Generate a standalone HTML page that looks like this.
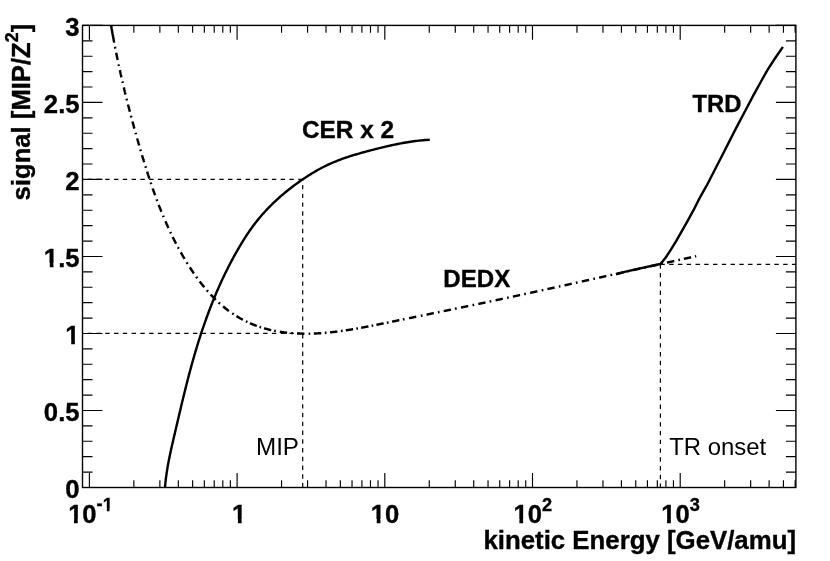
<!DOCTYPE html>
<html><head><meta charset="utf-8"><title>plot</title>
<style>html,body{margin:0;padding:0;background:#fff;}body{width:830px;height:561px;overflow:hidden;}svg{display:block;will-change:transform;}text{font-family:"Liberation Sans",sans-serif;fill:#000;}.b{font-weight:bold;stroke:#000;stroke-width:0.35px;}</style>
</head><body>
<svg width="830" height="561" viewBox="0 0 830 561">
<rect x="0" y="0" width="830" height="561" fill="#fff"/>
<path d="M89.40 487.50 V473.10 M89.40 25.40 V39.80 M133.86 487.50 V480.20 M133.86 25.40 V32.70 M159.87 487.50 V480.20 M159.87 25.40 V32.70 M178.32 487.50 V480.20 M178.32 25.40 V32.70 M192.64 487.50 V480.20 M192.64 25.40 V32.70 M204.33 487.50 V480.20 M204.33 25.40 V32.70 M214.22 487.50 V480.20 M214.22 25.40 V32.70 M222.79 487.50 V480.20 M222.79 25.40 V32.70 M230.34 487.50 V480.20 M230.34 25.40 V32.70 M237.10 487.50 V473.10 M237.10 25.40 V39.80 M281.56 487.50 V480.20 M281.56 25.40 V32.70 M307.57 487.50 V480.20 M307.57 25.40 V32.70 M326.02 487.50 V480.20 M326.02 25.40 V32.70 M340.34 487.50 V480.20 M340.34 25.40 V32.70 M352.03 487.50 V480.20 M352.03 25.40 V32.70 M361.92 487.50 V480.20 M361.92 25.40 V32.70 M370.49 487.50 V480.20 M370.49 25.40 V32.70 M378.04 487.50 V480.20 M378.04 25.40 V32.70 M384.80 487.50 V473.10 M384.80 25.40 V39.80 M429.26 487.50 V480.20 M429.26 25.40 V32.70 M455.27 487.50 V480.20 M455.27 25.40 V32.70 M473.72 487.50 V480.20 M473.72 25.40 V32.70 M488.04 487.50 V480.20 M488.04 25.40 V32.70 M499.73 487.50 V480.20 M499.73 25.40 V32.70 M509.62 487.50 V480.20 M509.62 25.40 V32.70 M518.19 487.50 V480.20 M518.19 25.40 V32.70 M525.74 487.50 V480.20 M525.74 25.40 V32.70 M532.50 487.50 V473.10 M532.50 25.40 V39.80 M576.96 487.50 V480.20 M576.96 25.40 V32.70 M602.97 487.50 V480.20 M602.97 25.40 V32.70 M621.42 487.50 V480.20 M621.42 25.40 V32.70 M635.74 487.50 V480.20 M635.74 25.40 V32.70 M647.43 487.50 V480.20 M647.43 25.40 V32.70 M657.32 487.50 V480.20 M657.32 25.40 V32.70 M665.89 487.50 V480.20 M665.89 25.40 V32.70 M673.44 487.50 V480.20 M673.44 25.40 V32.70 M680.20 487.50 V473.10 M680.20 25.40 V39.80 M724.66 487.50 V480.20 M724.66 25.40 V32.70 M750.67 487.50 V480.20 M750.67 25.40 V32.70 M769.12 487.50 V480.20 M769.12 25.40 V32.70 M783.44 487.50 V480.20 M783.44 25.40 V32.70 M795.13 487.50 V480.20 M795.13 25.40 V32.70 M82.50 487.50 H102.50 M795.90 487.50 H775.90 M82.50 472.10 H92.50 M795.90 472.10 H785.90 M82.50 456.69 H92.50 M795.90 456.69 H785.90 M82.50 441.29 H92.50 M795.90 441.29 H785.90 M82.50 425.89 H92.50 M795.90 425.89 H785.90 M82.50 410.48 H102.50 M795.90 410.48 H775.90 M82.50 395.08 H92.50 M795.90 395.08 H785.90 M82.50 379.68 H92.50 M795.90 379.68 H785.90 M82.50 364.27 H92.50 M795.90 364.27 H785.90 M82.50 348.87 H92.50 M795.90 348.87 H785.90 M82.50 333.47 H102.50 M795.90 333.47 H775.90 M82.50 318.06 H92.50 M795.90 318.06 H785.90 M82.50 302.66 H92.50 M795.90 302.66 H785.90 M82.50 287.26 H92.50 M795.90 287.26 H785.90 M82.50 271.85 H92.50 M795.90 271.85 H785.90 M82.50 256.45 H102.50 M795.90 256.45 H775.90 M82.50 241.05 H92.50 M795.90 241.05 H785.90 M82.50 225.64 H92.50 M795.90 225.64 H785.90 M82.50 210.24 H92.50 M795.90 210.24 H785.90 M82.50 194.84 H92.50 M795.90 194.84 H785.90 M82.50 179.43 H102.50 M795.90 179.43 H775.90 M82.50 164.03 H92.50 M795.90 164.03 H785.90 M82.50 148.63 H92.50 M795.90 148.63 H785.90 M82.50 133.22 H92.50 M795.90 133.22 H785.90 M82.50 117.82 H92.50 M795.90 117.82 H785.90 M82.50 102.42 H102.50 M795.90 102.42 H775.90 M82.50 87.01 H92.50 M795.90 87.01 H785.90 M82.50 71.61 H92.50 M795.90 71.61 H785.90 M82.50 56.21 H92.50 M795.90 56.21 H785.90 M82.50 40.80 H92.50 M795.90 40.80 H785.90 M82.50 25.40 H102.50 M795.90 25.40 H775.90" stroke="#000" stroke-width="1.15" fill="none"/>
<rect x="82.50" y="25.40" width="713.40" height="462.10" fill="none" stroke="#000" stroke-width="1.4"/>
<line x1="302.60" y1="179.43" x2="82.50" y2="179.43" stroke="#000" stroke-width="1.2" stroke-dasharray="4.385 4.385"/>
<line x1="302.60" y1="333.47" x2="82.50" y2="333.47" stroke="#000" stroke-width="1.2" stroke-dasharray="4.385 4.385"/>
<line x1="302.70" y1="487.50" x2="302.70" y2="179.43" stroke="#000" stroke-width="1.2" stroke-dasharray="4.385 4.385"/>
<line x1="660.40" y1="264.30" x2="795.90" y2="264.30" stroke="#000" stroke-width="1.2" stroke-dasharray="4.385 4.385"/>
<line x1="660.40" y1="264.30" x2="660.40" y2="487.50" stroke="#000" stroke-width="1.2" stroke-dasharray="4.385 4.385"/>
<clipPath id="c"><rect x="82.50" y="25.40" width="713.40" height="462.10"/></clipPath>
<g clip-path="url(#c)" fill="none" stroke="#000" stroke-width="2.40" stroke-linejoin="round">
<path d="M111.07 25.40 L111.14 25.80 L111.21 26.19 L111.27 26.58 L111.34 26.97 L111.41 27.36 L111.48 27.75 L111.55 28.15 L111.62 28.54 L111.68 28.93 L111.75 29.32 L111.82 29.71 L111.89 30.10 L111.96 30.50 L112.03 30.89 L112.10 31.28 L112.17 31.67 L112.24 32.06 L112.31 32.45 L112.38 32.84 L112.45 33.24 L112.52 33.63 L112.59 34.02 L112.67 34.41 L112.74 34.80 L112.81 35.19 L112.88 35.58 L112.95 35.97 L113.02 36.37 L113.10 36.76 L113.17 37.15 L113.24 37.54 L113.31 37.93 L113.39 38.32 L113.46 38.71 L113.53 39.10 L113.61 39.49 L113.68 39.88 L113.75 40.27 L113.83 40.67 L113.90 41.06 L113.97 41.45 L114.05 41.84 L114.12 42.23 L114.20 42.62 L114.20 42.64 M115.02 46.86 L115.03 46.91 L115.10 47.30 L115.18 47.69 L115.26 48.08 L115.33 48.47 L115.35 48.53 M116.21 52.84 L116.27 53.15 L116.35 53.54 L116.43 53.93 L116.51 54.32 L116.59 54.71 L116.67 55.10 L116.75 55.49 L116.83 55.88 L116.91 56.27 L116.99 56.66 L117.07 57.05 L117.15 57.43 L117.23 57.82 L117.31 58.21 L117.39 58.60 L117.47 58.99 L117.55 59.38 L117.63 59.77 L117.70 60.08 M118.61 64.38 L118.62 64.44 L118.70 64.82 L118.79 65.21 L118.87 65.60 L118.96 65.99 L118.97 66.04 M119.86 70.14 L119.89 70.26 L119.97 70.65 L120.06 71.04 L120.14 71.43 L120.23 71.82 L120.32 72.20 L120.40 72.59 L120.49 72.98 L120.58 73.37 L120.66 73.76 L120.75 74.14 L120.84 74.53 L120.92 74.92 L121.01 75.31 L121.10 75.69 L121.19 76.08 L121.27 76.47 L121.36 76.86 L121.45 77.25 L121.48 77.36 M122.41 81.45 L122.43 81.51 L122.52 81.89 L122.61 82.28 L122.70 82.67 L122.79 83.06 L122.80 83.11 M123.81 87.39 L123.88 87.70 L123.97 88.09 L124.06 88.47 L124.16 88.86 L124.25 89.25 L124.34 89.63 L124.43 90.02 L124.53 90.41 L124.62 90.79 L124.71 91.18 L124.81 91.57 L124.90 91.95 L124.99 92.34 L125.09 92.72 L125.18 93.11 L125.28 93.50 L125.37 93.88 L125.46 94.27 L125.54 94.58 M126.59 98.85 L126.60 98.90 L126.70 99.29 L126.80 99.67 L126.89 100.06 L126.99 100.45 L127.00 100.50 M128.03 104.57 L128.06 104.69 L128.16 105.07 L128.25 105.46 L128.35 105.84 L128.45 106.23 L128.55 106.61 L128.65 107.00 L128.75 107.38 L128.85 107.77 L128.94 108.15 L129.04 108.54 L129.14 108.92 L129.24 109.31 L129.34 109.69 L129.44 110.08 L129.54 110.46 L129.64 110.85 L129.74 111.23 L129.84 111.62 L129.87 111.74 M130.94 115.80 L130.95 115.85 L131.05 116.23 L131.16 116.62 L131.26 117.00 L131.36 117.39 L131.37 117.44 M132.46 121.50 L132.49 121.61 L132.60 122.00 L132.70 122.38 L132.80 122.76 L132.91 123.15 L133.01 123.53 L133.12 123.92 L133.22 124.30 L133.32 124.68 L133.43 125.07 L133.53 125.45 L133.64 125.83 L133.74 126.22 L133.85 126.60 L133.95 126.98 L134.06 127.37 L134.17 127.75 L134.27 128.13 L134.38 128.52 L134.41 128.63 M135.53 132.68 L135.55 132.73 L135.65 133.12 L135.76 133.50 L135.87 133.88 L135.98 134.27 L135.99 134.32 M137.14 138.36 L137.17 138.48 L137.28 138.86 L137.39 139.24 L137.50 139.62 L137.60 140.01 L137.71 140.39 L137.82 140.77 L137.93 141.15 L138.04 141.54 L138.15 141.92 L138.26 142.30 L138.37 142.68 L138.48 143.07 L138.59 143.45 L138.70 143.83 L138.81 144.21 L138.93 144.59 L139.04 144.98 L139.15 145.36 L139.18 145.47 M140.36 149.51 L140.37 149.56 L140.49 149.94 L140.60 150.32 L140.71 150.70 L140.82 151.09 L140.84 151.14 M142.04 155.17 L142.07 155.28 L142.19 155.66 L142.30 156.04 L142.41 156.42 L142.53 156.81 L142.64 157.19 L142.76 157.57 L142.87 157.95 L142.99 158.33 L143.10 158.71 L143.22 159.09 L143.33 159.47 L143.45 159.85 L143.57 160.23 L143.68 160.61 L143.80 160.99 L143.91 161.37 L144.03 161.76 L144.15 162.14 L144.18 162.25 M145.42 166.26 L145.44 166.32 L145.56 166.70 L145.68 167.08 L145.79 167.46 L145.91 167.84 L145.93 167.89 M147.14 171.70 L147.23 172.01 L147.36 172.38 L147.48 172.76 L147.60 173.14 L147.72 173.52 L147.84 173.90 L147.96 174.28 L148.09 174.66 L148.21 175.03 L148.33 175.41 L148.45 175.79 L148.58 176.17 L148.70 176.55 L148.82 176.92 L148.95 177.30 L149.07 177.68 L149.20 178.06 L149.32 178.43 L149.42 178.74 M150.69 182.53 L150.70 182.58 L150.83 182.96 L150.96 183.34 L151.09 183.71 L151.21 184.09 L151.23 184.14 M152.66 188.29 L152.76 188.60 L152.89 188.97 L153.03 189.35 L153.16 189.72 L153.29 190.10 L153.42 190.47 L153.55 190.85 L153.69 191.22 L153.82 191.59 L153.95 191.97 L154.08 192.34 L154.22 192.72 L154.35 193.09 L154.48 193.46 L154.62 193.84 L154.75 194.21 L154.89 194.58 L155.02 194.96 L155.13 195.26 M156.65 199.38 L156.66 199.43 L156.80 199.80 L156.94 200.17 L157.08 200.55 L157.22 200.92 L157.24 200.97 M158.73 204.87 L158.78 205.00 L158.92 205.37 L159.06 205.74 L159.21 206.10 L159.35 206.47 L159.49 206.84 L159.64 207.21 L159.78 207.58 L159.93 207.95 L160.08 208.32 L160.22 208.69 L160.37 209.06 L160.51 209.43 L160.66 209.80 L160.81 210.16 L160.96 210.53 L161.10 210.90 L161.25 211.27 L161.40 211.64 L161.45 211.75 M163.04 215.62 L163.06 215.67 L163.21 216.04 L163.36 216.40 L163.52 216.77 L163.67 217.13 L163.69 217.19 M165.41 221.21 L165.54 221.51 L165.70 221.87 L165.86 222.24 L166.02 222.60 L166.18 222.96 L166.34 223.32 L166.50 223.69 L166.66 224.05 L166.82 224.41 L166.98 224.77 L167.14 225.14 L167.31 225.50 L167.47 225.86 L167.63 226.22 L167.79 226.58 L167.96 226.94 L168.12 227.31 L168.29 227.67 L168.42 227.97 M170.27 231.93 L170.29 231.98 L170.46 232.34 L170.63 232.70 L170.80 233.06 L170.97 233.42 L171.00 233.47 M172.74 237.06 L172.88 237.34 L173.06 237.70 L173.23 238.06 L173.41 238.41 L173.59 238.77 L173.76 239.12 L173.94 239.48 L174.12 239.83 L174.30 240.19 L174.48 240.54 L174.66 240.89 L174.84 241.25 L175.02 241.60 L175.20 241.96 L175.38 242.31 L175.57 242.66 L175.75 243.02 L175.93 243.37 L176.08 243.66 M177.95 247.19 L177.98 247.23 L178.16 247.59 L178.35 247.94 L178.54 248.29 L178.73 248.63 L178.76 248.68 M180.80 252.38 L180.85 252.47 L181.05 252.81 L181.24 253.16 L181.44 253.51 L181.64 253.85 L181.84 254.20 L182.03 254.55 L182.23 254.89 L182.43 255.24 L182.63 255.58 L182.83 255.93 L183.03 256.27 L183.23 256.62 L183.44 256.96 L183.64 257.31 L183.84 257.65 L184.04 257.99 L184.25 258.34 L184.45 258.68 L184.51 258.79 M186.71 262.40 L186.73 262.44 L186.94 262.78 L187.15 263.12 L187.36 263.46 L187.58 263.80 L187.60 263.84 M189.79 267.28 L189.94 267.52 L190.16 267.86 L190.38 268.20 L190.60 268.53 L190.82 268.87 L191.04 269.20 L191.26 269.54 L191.48 269.87 L191.71 270.21 L191.93 270.54 L192.15 270.87 L192.38 271.21 L192.60 271.54 L192.83 271.87 L193.05 272.20 L193.28 272.53 L193.51 272.87 L193.73 273.20 L193.90 273.44 M196.25 276.77 L196.27 276.81 L196.51 277.13 L196.74 277.46 L196.98 277.78 L197.21 278.11 L197.24 278.15 M199.67 281.40 L199.85 281.64 L200.10 281.96 L200.34 282.28 L200.59 282.60 L200.83 282.91 L201.08 283.23 L201.32 283.54 L201.57 283.86 L201.82 284.17 L202.07 284.49 L202.32 284.80 L202.57 285.11 L202.82 285.42 L203.07 285.74 L203.32 286.05 L203.57 286.36 L203.83 286.67 L204.08 286.98 L204.26 287.20 M206.88 290.29 L206.91 290.33 L207.17 290.63 L207.44 290.93 L207.70 291.23 L207.96 291.53 L208.00 291.57 M210.67 294.52 L210.90 294.77 L211.18 295.06 L211.45 295.35 L211.72 295.64 L211.99 295.93 L212.27 296.22 L212.54 296.50 L212.82 296.79 L213.10 297.07 L213.37 297.36 L213.65 297.64 L213.93 297.92 L214.21 298.21 L214.49 298.49 L214.77 298.77 L215.05 299.05 L215.33 299.32 L215.61 299.60 L215.84 299.82 M218.73 302.55 L218.77 302.60 L219.06 302.86 L219.36 303.13 L219.65 303.39 L219.94 303.66 L219.99 303.70 M223.09 306.39 L223.22 306.50 L223.52 306.75 L223.82 307.00 L224.13 307.25 L224.43 307.50 L224.74 307.75 L225.05 308.00 L225.35 308.25 L225.66 308.49 L225.97 308.74 L226.28 308.98 L226.59 309.22 L226.90 309.46 L227.21 309.70 L227.52 309.94 L227.84 310.18 L228.15 310.42 L228.46 310.66 L228.78 310.89 L228.90 310.98 M232.25 313.37 L232.30 313.40 L232.63 313.62 L232.95 313.85 L233.28 314.06 L233.61 314.28 L233.66 314.32 M236.47 316.12 L236.59 316.19 L236.92 316.40 L237.26 316.61 L237.60 316.81 L237.93 317.01 L238.27 317.21 L238.61 317.41 L238.95 317.61 L239.29 317.81 L239.64 318.01 L239.98 318.20 L240.32 318.40 L240.67 318.59 L241.01 318.78 L241.36 318.97 L241.71 319.16 L242.05 319.35 L242.40 319.53 L242.75 319.72 L242.89 319.80 M245.88 321.31 L245.93 321.33 L246.29 321.50 L246.64 321.67 L247.00 321.84 L247.36 322.01 L247.41 322.04 M249.97 323.20 L250.25 323.32 L250.62 323.48 L250.98 323.63 L251.35 323.79 L251.72 323.94 L252.08 324.09 L252.45 324.24 L252.82 324.39 L253.19 324.54 L253.56 324.69 L253.93 324.84 L254.30 324.98 L254.67 325.12 L255.04 325.27 L255.42 325.41 L255.79 325.55 L256.16 325.69 L256.54 325.82 L256.84 325.93 M259.50 326.86 L259.55 326.87 L259.93 327.00 L260.30 327.12 L260.68 327.25 L261.06 327.37 L261.11 327.38 M264.02 328.27 L264.12 328.30 L264.50 328.41 L264.89 328.52 L265.27 328.62 L265.66 328.73 L266.04 328.83 L266.43 328.94 L266.81 329.04 L267.20 329.14 L267.59 329.24 L267.97 329.34 L268.36 329.44 L268.75 329.53 L269.14 329.63 L269.53 329.72 L269.91 329.82 L270.30 329.91 L270.69 330.00 L271.08 330.08 L271.19 330.11 M274.16 330.74 L274.21 330.75 L274.60 330.83 L274.99 330.90 L275.39 330.98 L275.78 331.05 L275.83 331.06 M279.80 331.74 L280.11 331.79 L280.51 331.85 L280.90 331.91 L281.30 331.97 L281.69 332.03 L282.09 332.08 L282.48 332.14 L282.88 332.19 L283.28 332.25 L283.67 332.30 L284.07 332.35 L284.46 332.40 L284.86 332.45 L285.26 332.49 L285.65 332.54 L286.05 332.59 L286.45 332.63 L286.84 332.67 L287.14 332.71 M291.15 333.09 L291.21 333.09 L291.61 333.12 L292.00 333.15 L292.40 333.18 L292.80 333.21 L292.85 333.22 M297.02 333.47 L297.16 333.47 L297.55 333.49 L297.95 333.51 L298.35 333.53 L298.74 333.54 L299.14 333.56 L299.54 333.57 L299.93 333.58 L300.33 333.60 L300.73 333.61 L301.12 333.62 L301.52 333.63 L301.91 333.64 L302.31 333.65 L302.71 333.65 L303.10 333.66 L303.50 333.67 L303.89 333.67 L304.29 333.67 L304.41 333.68 M308.59 333.67 L308.65 333.67 L309.04 333.66 L309.44 333.66 L309.83 333.65 L310.23 333.64 L310.29 333.64 M313.85 333.54 L314.18 333.53 L314.58 333.51 L314.97 333.49 L315.37 333.48 L315.76 333.46 L316.16 333.44 L316.55 333.42 L316.95 333.40 L317.34 333.38 L317.74 333.36 L318.13 333.34 L318.53 333.32 L318.92 333.29 L319.32 333.27 L319.71 333.24 L320.11 333.22 L320.50 333.19 L320.90 333.17 L321.24 333.14 M324.79 332.87 L324.85 332.87 L325.24 332.84 L325.64 332.80 L326.03 332.77 L326.43 332.73 L326.48 332.73 M330.05 332.38 L330.37 332.35 L330.76 332.31 L331.16 332.27 L331.55 332.22 L331.95 332.18 L332.34 332.14 L332.74 332.09 L333.13 332.05 L333.52 332.00 L333.92 331.96 L334.31 331.91 L334.71 331.87 L335.10 331.82 L335.49 331.77 L335.89 331.72 L336.28 331.67 L336.68 331.63 L337.07 331.58 L337.40 331.53 M340.95 331.06 L341.01 331.05 L341.40 331.00 L341.79 330.95 L342.19 330.89 L342.58 330.83 L342.64 330.83 M345.81 330.36 L346.12 330.31 L346.52 330.25 L346.91 330.19 L347.30 330.13 L347.70 330.07 L348.09 330.01 L348.48 329.94 L348.87 329.88 L349.27 329.82 L349.66 329.76 L350.05 329.69 L350.45 329.63 L350.84 329.57 L351.23 329.50 L351.63 329.44 L352.02 329.37 L352.41 329.31 L352.81 329.24 L353.12 329.19 M356.29 328.64 L356.34 328.63 L356.73 328.56 L357.13 328.49 L357.52 328.43 L357.91 328.36 L357.96 328.35 M361.14 327.77 L361.44 327.72 L361.84 327.64 L362.23 327.57 L362.62 327.50 L363.01 327.42 L363.41 327.35 L363.80 327.28 L364.19 327.20 L364.58 327.13 L364.97 327.06 L365.37 326.98 L365.76 326.91 L366.15 326.83 L366.54 326.76 L366.94 326.68 L367.33 326.61 L367.72 326.53 L368.11 326.46 L368.42 326.40 M371.59 325.78 L371.64 325.77 L372.03 325.69 L372.42 325.61 L372.81 325.54 L373.21 325.46 L373.26 325.45 M376.43 324.81 L376.73 324.75 L377.12 324.67 L377.51 324.60 L377.91 324.52 L378.30 324.44 L378.69 324.36 L379.08 324.28 L379.47 324.20 L379.86 324.12 L380.25 324.04 L380.65 323.96 L381.04 323.88 L381.43 323.80 L381.82 323.72 L382.21 323.64 L382.60 323.57 L382.99 323.49 L383.38 323.41 L383.68 323.35 M386.85 322.70 L386.90 322.69 L387.29 322.61 L387.69 322.53 L388.08 322.45 L388.47 322.37 L388.52 322.36 M392.07 321.64 L392.38 321.57 L392.77 321.49 L393.16 321.42 L393.55 321.34 L393.94 321.26 L394.33 321.18 L394.72 321.10 L395.11 321.02 L395.50 320.94 L395.89 320.86 L396.28 320.78 L396.67 320.70 L397.06 320.62 L397.45 320.54 L397.84 320.46 L398.23 320.38 L398.62 320.30 L399.01 320.22 L399.32 320.16 M402.87 319.44 L402.92 319.43 L403.31 319.35 L403.70 319.27 L404.09 319.19 L404.48 319.11 L404.53 319.10 M409.04 318.18 L409.16 318.16 L409.55 318.08 L409.94 318.00 L410.33 317.92 L410.72 317.84 L411.11 317.76 L411.50 317.68 L411.89 317.60 L412.28 317.52 L412.67 317.44 L413.06 317.36 L413.45 317.29 L413.84 317.21 L414.23 317.13 L414.62 317.05 L415.01 316.97 L415.40 316.89 L415.79 316.81 L416.17 316.73 L416.29 316.71 M420.80 315.79 L420.85 315.78 L421.24 315.70 L421.63 315.62 L422.02 315.54 L422.41 315.46 L422.46 315.45 M426.57 314.61 L426.69 314.59 L427.08 314.51 L427.47 314.43 L427.86 314.35 L428.25 314.27 L428.64 314.19 L429.03 314.11 L429.42 314.03 L429.80 313.95 L430.19 313.87 L430.58 313.79 L430.97 313.71 L431.36 313.63 L431.75 313.55 L432.14 313.47 L432.53 313.39 L432.92 313.31 L433.31 313.24 L433.70 313.16 L433.82 313.13 M437.92 312.29 L437.98 312.28 L438.36 312.20 L438.75 312.12 L439.14 312.04 L439.53 311.96 L439.59 311.95 M443.68 311.11 L443.81 311.08 L444.20 311.00 L444.59 310.92 L444.98 310.84 L445.36 310.76 L445.75 310.69 L446.14 310.61 L446.53 310.53 L446.92 310.45 L447.31 310.37 L447.70 310.29 L448.09 310.21 L448.47 310.13 L448.86 310.05 L449.25 309.97 L449.64 309.89 L450.03 309.81 L450.42 309.73 L450.81 309.65 L450.93 309.62 M455.03 308.78 L455.08 308.76 L455.47 308.68 L455.86 308.60 L456.25 308.52 L456.64 308.44 L456.69 308.43 M460.98 307.55 L461.30 307.48 L461.69 307.40 L462.08 307.32 L462.47 307.24 L462.85 307.16 L463.24 307.08 L463.63 307.00 L464.02 306.92 L464.41 306.84 L464.80 306.76 L465.18 306.67 L465.57 306.59 L465.96 306.51 L466.35 306.43 L466.74 306.35 L467.13 306.27 L467.52 306.19 L467.90 306.11 L468.22 306.04 M472.51 305.15 L472.57 305.14 L472.95 305.06 L473.34 304.98 L473.73 304.90 L474.12 304.82 L474.17 304.80 M478.27 303.95 L478.39 303.92 L478.78 303.84 L479.17 303.76 L479.56 303.68 L479.95 303.60 L480.33 303.51 L480.72 303.43 L481.11 303.35 L481.50 303.27 L481.89 303.19 L482.28 303.11 L482.67 303.03 L483.05 302.94 L483.44 302.86 L483.83 302.78 L484.22 302.70 L484.61 302.62 L485.00 302.54 L485.38 302.45 L485.51 302.43 M489.60 301.56 L489.66 301.55 L490.05 301.47 L490.43 301.39 L490.82 301.31 L491.21 301.22 L491.27 301.21 M495.56 300.30 L495.87 300.24 L496.26 300.15 L496.65 300.07 L497.04 299.99 L497.43 299.91 L497.82 299.82 L498.20 299.74 L498.59 299.66 L498.98 299.57 L499.37 299.49 L499.76 299.41 L500.15 299.33 L500.53 299.24 L500.92 299.16 L501.31 299.08 L501.70 298.99 L502.09 298.91 L502.48 298.83 L502.80 298.76 M507.09 297.84 L507.14 297.83 L507.53 297.75 L507.92 297.66 L508.31 297.58 L508.69 297.50 L508.75 297.49 M512.85 296.61 L512.97 296.58 L513.36 296.50 L513.75 296.41 L514.13 296.33 L514.52 296.25 L514.91 296.16 L515.30 296.08 L515.69 295.99 L516.08 295.91 L516.46 295.83 L516.85 295.74 L517.24 295.66 L517.63 295.58 L518.02 295.49 L518.41 295.41 L518.80 295.32 L519.18 295.24 L519.57 295.16 L519.96 295.07 L520.08 295.05 M524.18 294.16 L524.24 294.15 L524.62 294.06 L525.01 293.98 L525.40 293.89 L525.79 293.81 L525.84 293.80 M530.14 292.86 L530.45 292.80 L530.84 292.71 L531.23 292.63 L531.62 292.54 L532.01 292.46 L532.40 292.37 L532.79 292.29 L533.17 292.20 L533.56 292.12 L533.95 292.03 L534.34 291.95 L534.73 291.87 L535.12 291.78 L535.51 291.70 L535.89 291.61 L536.28 291.53 L536.67 291.44 L537.06 291.36 L537.37 291.29 M541.67 290.35 L541.72 290.34 L542.11 290.25 L542.50 290.17 L542.89 290.08 L543.28 290.00 L543.33 289.99 M547.44 289.09 L547.55 289.06 L547.94 288.97 L548.33 288.89 L548.72 288.80 L549.11 288.72 L549.49 288.63 L549.88 288.55 L550.27 288.46 L550.66 288.38 L551.05 288.29 L551.44 288.21 L551.83 288.12 L552.22 288.04 L552.60 287.95 L552.99 287.86 L553.38 287.78 L553.77 287.69 L554.16 287.61 L554.55 287.52 L554.66 287.50 M558.77 286.59 L558.82 286.58 L559.21 286.50 L559.60 286.41 L559.99 286.32 L560.38 286.24 L560.43 286.23 M564.53 285.32 L564.65 285.30 L565.04 285.21 L565.43 285.12 L565.82 285.04 L566.20 284.95 L566.59 284.87 L566.98 284.78 L567.37 284.69 L567.76 284.61 L568.15 284.52 L568.54 284.44 L568.92 284.35 L569.31 284.27 L569.70 284.18 L570.09 284.09 L570.48 284.01 L570.87 283.92 L571.26 283.84 L571.64 283.75 L571.76 283.72 M575.87 282.81 L575.92 282.80 L576.31 282.72 L576.70 282.63 L577.08 282.54 L577.47 282.46 L577.52 282.45 M581.82 281.49 L582.13 281.42 L582.52 281.34 L582.91 281.25 L583.30 281.17 L583.69 281.08 L584.08 280.99 L584.47 280.91 L584.85 280.82 L585.24 280.73 L585.63 280.65 L586.02 280.56 L586.41 280.48 L586.80 280.39 L587.19 280.30 L587.57 280.22 L587.96 280.13 L588.35 280.04 L588.74 279.96 L589.05 279.89 M593.35 278.93 L593.40 278.92 L593.79 278.84 L594.18 278.75 L594.57 278.66 L594.95 278.58 L595.01 278.57 M599.11 277.65 L599.23 277.63 L599.62 277.54 L600.00 277.45 L600.39 277.37 L600.78 277.28 L601.17 277.20 L601.56 277.11 L601.95 277.02 L602.34 276.94 L602.72 276.85 L603.11 276.76 L603.50 276.68 L603.89 276.59 L604.28 276.50 L604.67 276.42 L605.05 276.33 L605.44 276.24 L605.83 276.16 L606.22 276.07 L606.33 276.05 M610.44 275.13 L610.49 275.12 L610.88 275.03 L611.27 274.95 L611.66 274.86 L612.05 274.78 L612.10 274.76 M616.01 273.89 L616.32 273.82 L616.71 273.74 L617.09 273.65 L617.48 273.57 L617.87 273.48 L618.26 273.39 L618.65 273.31 L619.04 273.22 L619.42 273.13 L619.81 273.05 L620.20 272.96 L620.59 272.87 L620.98 272.79 L621.37 272.70 L621.75 272.61 L622.14 272.53 L622.53 272.44 L622.92 272.36 L623.23 272.29 M627.14 271.42 L627.19 271.41 L627.58 271.32 L627.97 271.23 L628.35 271.15 L628.74 271.06 L628.80 271.05 M632.89 270.14 L633.01 270.11 L633.40 270.02 L633.79 269.94 L634.18 269.85 L634.57 269.77 L634.95 269.68 L635.34 269.59 L635.73 269.51 L636.12 269.42 L636.51 269.33 L636.89 269.25 L637.28 269.16 L637.67 269.08 L638.06 268.99 L638.45 268.90 L638.84 268.82 L639.22 268.73 L639.61 268.65 L640.00 268.56 L640.12 268.53 M644.22 267.62 L644.27 267.61 L644.66 267.53 L645.05 267.44 L645.43 267.35 L645.82 267.27 L645.88 267.26 M649.97 266.35 L650.09 266.32 L650.48 266.24 L650.87 266.15 L651.25 266.06 L651.64 265.98 L652.03 265.89 L652.42 265.81 L652.81 265.72 L653.19 265.63 L653.58 265.55 L653.97 265.46 L654.36 265.38 L654.75 265.29 L655.13 265.21 L655.52 265.12 L655.91 265.03 L656.30 264.95 L656.69 264.86 L657.07 264.78 L657.19 264.75 M661.29 263.85 L661.34 263.83 L661.73 263.75 L662.12 263.66 L662.51 263.58 L662.89 263.49 L662.95 263.48 M667.03 262.58 L667.16 262.55 L667.55 262.46 L667.94 262.38 L668.32 262.29 L668.71 262.21 L669.10 262.12 L669.49 262.04 L669.87 261.95 L670.26 261.87 L670.65 261.78 L671.04 261.70 L671.43 261.61 L671.81 261.53 L672.20 261.44 L672.59 261.36 L672.98 261.27 L673.36 261.18 L673.75 261.10 L674.14 261.01 L674.26 260.99 M678.35 260.09 L678.41 260.08 L678.79 259.99 L679.18 259.91 L679.57 259.82 L679.96 259.74 L680.01 259.73 M683.90 258.88 L684.22 258.80 L684.61 258.72 L685.00 258.64 L685.38 258.55 L685.77 258.47 L686.16 258.38 L686.55 258.30 L686.93 258.21 L687.32 258.13 L687.71 258.04 L688.10 257.96 L688.48 257.87 L688.87 257.79 L689.26 257.70 L689.65 257.62 L690.03 257.53 L690.42 257.45 L690.81 257.37 L691.13 257.30 M695.02 256.45 L695.07 256.44 L695.46 256.35 L695.85 256.27 L696.23 256.19" stroke-width="2.45"/>
<path d="M165.01 487.30 L165.14 485.69 L165.29 484.09 L165.45 482.48 L165.63 480.88 L165.81 479.28 L166.01 477.68 L166.22 476.09 L166.44 474.50 L166.67 472.90 L166.91 471.31 L167.17 469.73 L167.43 468.14 L167.70 466.56 L167.98 464.97 L168.27 463.39 L168.56 461.81 L168.87 460.24 L169.18 458.66 L169.49 457.08 L169.82 455.51 L170.15 453.93 L170.48 452.36 L170.82 450.79 L171.16 449.22 L171.51 447.65 L171.86 446.08 L172.22 444.51 L172.58 442.94 L172.94 441.37 L173.30 439.81 L173.66 438.24 L174.03 436.67 L174.39 435.11 L174.76 433.54 L175.13 431.97 L175.49 430.40 L175.86 428.84 L176.23 427.27 L176.59 425.70 L176.96 424.14 L177.33 422.57 L177.69 421.00 L178.06 419.44 L178.43 417.87 L178.79 416.30 L179.16 414.74 L179.53 413.17 L179.90 411.60 L180.27 410.04 L180.65 408.47 L181.02 406.91 L181.39 405.34 L181.77 403.78 L182.14 402.21 L182.52 400.65 L182.90 399.08 L183.28 397.52 L183.66 395.96 L184.04 394.39 L184.42 392.83 L184.81 391.27 L185.20 389.71 L185.59 388.15 L185.98 386.59 L186.37 385.03 L186.77 383.47 L187.17 381.91 L187.57 380.35 L187.97 378.79 L188.37 377.24 L188.78 375.68 L189.19 374.13 L189.60 372.57 L190.02 371.02 L190.43 369.46 L190.85 367.91 L191.28 366.36 L191.70 364.81 L192.13 363.26 L192.56 361.71 L193.00 360.16 L193.44 358.61 L193.88 357.07 L194.33 355.52 L194.78 353.97 L195.23 352.43 L195.68 350.89 L196.14 349.35 L196.61 347.80 L197.07 346.26 L197.55 344.73 L198.02 343.19 L198.50 341.65 L198.98 340.12 L199.47 338.58 L199.96 337.05 L200.46 335.52 L200.96 333.99 L201.46 332.46 L201.97 330.93 L202.48 329.41 L203.00 327.88 L203.52 326.36 L204.04 324.84 L204.57 323.32 L205.11 321.80 L205.65 320.28 L206.19 318.77 L206.74 317.25 L207.29 315.74 L207.85 314.23 L208.41 312.72 L208.97 311.22 L209.55 309.71 L210.12 308.21 L210.70 306.71 L211.29 305.21 L211.88 303.71 L212.48 302.22 L213.08 300.73 L213.68 299.24 L214.29 297.75 L214.91 296.26 L215.53 294.78 L216.16 293.30 L216.79 291.82 L217.42 290.34 L218.07 288.87 L218.71 287.39 L219.37 285.92 L220.03 284.46 L220.69 282.99 L221.36 281.53 L222.03 280.07 L222.71 278.61 L223.40 277.16 L224.09 275.70 L224.79 274.26 L225.49 272.81 L226.20 271.37 L226.92 269.92 L227.64 268.49 L228.36 267.05 L229.10 265.62 L229.84 264.19 L230.58 262.76 L231.33 261.34 L232.09 259.92 L232.85 258.51 L233.62 257.09 L234.39 255.68 L235.17 254.28 L235.96 252.88 L236.75 251.48 L237.55 250.08 L238.36 248.69 L239.17 247.30 L239.99 245.92 L240.81 244.54 L241.64 243.16 L242.48 241.79 L243.33 240.42 L244.18 239.06 L245.04 237.71 L245.91 236.36 L246.79 235.01 L247.67 233.67 L248.57 232.34 L249.47 231.02 L250.39 229.70 L251.32 228.39 L252.26 227.09 L253.21 225.80 L254.17 224.51 L255.14 223.24 L256.13 221.97 L257.12 220.72 L258.13 219.47 L259.15 218.23 L260.19 217.00 L261.23 215.79 L262.28 214.58 L263.35 213.37 L264.42 212.18 L265.51 211.00 L266.61 209.82 L267.71 208.66 L268.83 207.50 L269.96 206.36 L271.09 205.22 L272.24 204.09 L273.40 202.97 L274.56 201.86 L275.74 200.76 L276.92 199.67 L278.11 198.58 L279.31 197.51 L280.52 196.45 L281.74 195.39 L282.96 194.34 L284.20 193.30 L285.44 192.27 L286.69 191.25 L287.94 190.24 L289.21 189.24 L290.48 188.25 L291.76 187.26 L293.04 186.29 L294.34 185.32 L295.63 184.36 L296.94 183.42 L298.25 182.48 L299.57 181.55 L300.89 180.63 L302.22 179.71 L303.56 178.81 L304.90 177.91 L306.24 177.03 L307.60 176.15 L308.95 175.29 L310.32 174.43 L311.69 173.59 L313.06 172.75 L314.44 171.93 L315.83 171.12 L317.23 170.32 L318.63 169.54 L320.04 168.77 L321.45 168.01 L322.88 167.27 L324.31 166.55 L325.74 165.83 L327.19 165.14 L328.64 164.46 L330.10 163.79 L331.57 163.15 L333.04 162.51 L334.52 161.89 L336.00 161.28 L337.50 160.69 L338.99 160.11 L340.50 159.55 L342.00 158.99 L343.52 158.45 L345.03 157.92 L346.56 157.40 L348.08 156.89 L349.61 156.39 L351.15 155.90 L352.68 155.42 L354.22 154.95 L355.77 154.49 L357.31 154.03 L358.86 153.58 L360.41 153.14 L361.96 152.71 L363.52 152.28 L365.07 151.85 L366.63 151.43 L368.19 151.01 L369.75 150.60 L371.31 150.19 L372.87 149.79 L374.43 149.39 L375.99 148.99 L377.55 148.60 L379.11 148.21 L380.68 147.82 L382.24 147.44 L383.81 147.07 L385.37 146.70 L386.94 146.33 L388.51 145.98 L390.08 145.62 L391.65 145.28 L393.22 144.93 L394.79 144.60 L396.36 144.27 L397.94 143.95 L399.51 143.64 L401.09 143.34 L402.67 143.04 L404.25 142.76 L405.83 142.48 L407.42 142.21 L409.00 141.96 L410.59 141.71 L412.18 141.48 L413.77 141.26 L415.36 141.05 L416.96 140.85 L418.56 140.67 L420.16 140.50 L421.76 140.34 L423.37 140.20 L424.97 140.07 L426.58 139.96 L428.20 139.87 L429.81 139.79"/>
<path d="M616.00 274.30 L625.70 271.60 L640.10 268.30 L660.20 264.00 L662.50 261.60 L665.70 257.50 L670.90 249.60 L676.40 240.60 L682.10 230.60 L687.80 220.60 L693.50 210.20 L699.20 198.90 L704.90 188.70 L707.00 185.00 L721.00 157.80 L735.70 128.90 L744.60 112.00 L753.50 95.10 L762.40 79.00 L767.70 69.60 L774.90 58.50 L782.90 46.90"/>
</g>
<text class="b"><tspan font-size="25.7" x="65.31" y="35.60">3</tspan></text>
<text class="b"><tspan font-size="25.7" x="43.87 58.17 65.31" y="112.62">2.5</tspan></text>
<text class="b"><tspan font-size="25.7" x="65.31" y="189.63">2</tspan></text>
<text class="b"><tspan font-size="25.7" x="43.87 58.17 65.31" y="266.65">1.5</tspan></text>
<text class="b"><tspan font-size="25.7" x="65.31" y="343.67">1</tspan></text>
<text class="b"><tspan font-size="25.7" x="43.87 58.17 65.31" y="420.68">0.5</tspan></text>
<text class="b"><tspan font-size="25.7" x="65.31" y="497.70">0</tspan></text>
<text class="b"><tspan font-size="25.6" x="68.14 82.37" y="522.60">10</tspan><tspan font-size="18.2" x="96.61" y="510.00">-</tspan><tspan font-size="18.2" x="102.67" y="511.40">1</tspan></text>
<text class="b"><tspan font-size="25.6" x="232.05" y="522.60">1</tspan></text>
<text class="b"><tspan font-size="25.6" x="370.86 385.10" y="522.60">10</tspan></text>
<text class="b"><tspan font-size="25.6" x="513.50 527.74" y="522.60">10</tspan><tspan font-size="18.2" x="541.98" y="511.40">2</tspan></text>
<text class="b"><tspan font-size="25.6" x="661.20 675.44" y="522.60">10</tspan><tspan font-size="18.2" x="689.68" y="511.40">3</tspan></text>
<rect x="44.63" y="263.03" width="5.15" height="5.52" fill="#fff"/>
<rect x="53.50" y="263.03" width="4.91" height="5.52" fill="#fff"/>
<rect x="66.06" y="340.04" width="5.15" height="5.52" fill="#fff"/>
<rect x="74.93" y="340.04" width="4.91" height="5.52" fill="#fff"/>
<rect x="68.89" y="518.99" width="5.13" height="5.51" fill="#fff"/>
<rect x="77.72" y="518.99" width="4.89" height="5.51" fill="#fff"/>
<rect x="103.21" y="508.54" width="3.61" height="4.76" fill="#fff"/>
<rect x="109.52" y="508.54" width="3.47" height="4.76" fill="#fff"/>
<rect x="232.80" y="518.99" width="5.13" height="5.51" fill="#fff"/>
<rect x="241.64" y="518.99" width="4.89" height="5.51" fill="#fff"/>
<rect x="371.61" y="518.99" width="5.13" height="5.51" fill="#fff"/>
<rect x="380.45" y="518.99" width="4.89" height="5.51" fill="#fff"/>
<rect x="514.25" y="518.99" width="5.13" height="5.51" fill="#fff"/>
<rect x="523.09" y="518.99" width="4.89" height="5.51" fill="#fff"/>
<rect x="661.95" y="518.99" width="5.13" height="5.51" fill="#fff"/>
<rect x="670.79" y="518.99" width="4.89" height="5.51" fill="#fff"/>
<text class="b" x="796" y="548.9" font-size="25.8" text-anchor="end">kinetic Energy [GeV/amu]</text>
<text class="b" transform="translate(29.6,23.8) rotate(-90)" font-size="25.65" text-anchor="end">signal [MIP/Z<tspan font-size="17.8" dy="-11.8">2</tspan><tspan dy="11.8">]</tspan></text>
<text class="b" x="301.9" y="137.8" font-size="24.4">CER x 2</text>
<text class="b" x="443.3" y="287.0" font-size="24.1">DEDX</text>
<text class="b" x="692.5" y="111.6" font-size="23.8">TRD</text>
<text x="256.0" y="455.2" font-size="24.2">MIP</text>
<text x="669.2" y="455.3" font-size="23.9">TR onset</text>
</svg></body></html>
